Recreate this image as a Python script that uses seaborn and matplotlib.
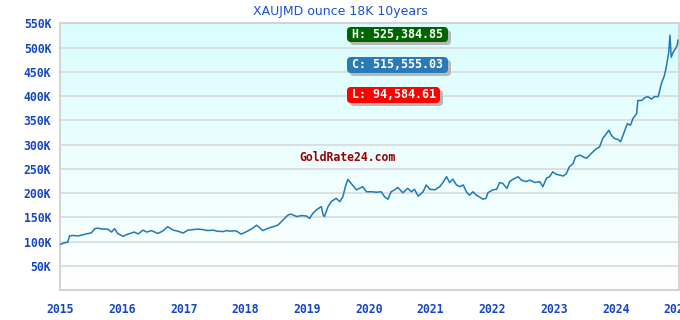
import matplotlib
matplotlib.use('Agg')
import matplotlib.pyplot as plt
import seaborn as sns
import numpy as np
from matplotlib.colors import LinearSegmentedColormap
from matplotlib.patches import FancyBboxPatch
from matplotlib.transforms import IdentityTransform

# price of one 18K ounce in JMD, thousands
years = [
    2015.00, 2015.07, 2015.12, 2015.15, 2015.20, 2015.29, 2015.37, 2015.45, 2015.50, 2015.56,
    2015.61, 2015.69, 2015.77, 2015.83, 2015.88, 2015.93, 2016.02, 2016.07, 2016.15, 2016.20,
    2016.26, 2016.34, 2016.40, 2016.48, 2016.58, 2016.66, 2016.74, 2016.83, 2016.91, 2016.99,
    2017.07, 2017.15, 2017.23, 2017.31, 2017.39, 2017.47, 2017.55, 2017.64, 2017.69, 2017.74,
    2017.85, 2017.93, 2018.02, 2018.10, 2018.18, 2018.23, 2018.28, 2018.37, 2018.45, 2018.53,
    2018.61, 2018.69, 2018.74, 2018.83, 2018.91, 2018.99, 2019.04, 2019.09, 2019.15, 2019.23,
    2019.26, 2019.28, 2019.34, 2019.39, 2019.47, 2019.53, 2019.58, 2019.62, 2019.66, 2019.72,
    2019.80, 2019.85, 2019.90, 2019.96, 2020.04, 2020.12, 2020.20, 2020.26, 2020.31, 2020.36,
    2020.42, 2020.47, 2020.55, 2020.63, 2020.69, 2020.74, 2020.80, 2020.88, 2020.93, 2020.99,
    2021.07, 2021.15, 2021.20, 2021.26, 2021.31, 2021.36, 2021.42, 2021.47, 2021.53, 2021.58,
    2021.63, 2021.69, 2021.74, 2021.80, 2021.85, 2021.90, 2021.93, 2022.01, 2022.07, 2022.12,
    2022.17, 2022.24, 2022.28, 2022.34, 2022.42, 2022.47, 2022.55, 2022.61, 2022.69, 2022.77,
    2022.82, 2022.88, 2022.93, 2022.98, 2023.04, 2023.09, 2023.15, 2023.20, 2023.25, 2023.31,
    2023.35, 2023.42, 2023.47, 2023.53, 2023.58, 2023.63, 2023.69, 2023.74, 2023.79, 2023.85,
    2023.89, 2023.93, 2023.98, 2024.04, 2024.08, 2024.13, 2024.19, 2024.24, 2024.28, 2024.34,
    2024.36, 2024.42, 2024.47, 2024.52, 2024.58, 2024.63, 2024.69, 2024.74, 2024.79, 2024.82,
    2024.86, 2024.88, 2024.90, 2024.93, 2024.97, 2025.00, 2025.01,
]
price_k = [
    94.6, 98, 99, 112, 113, 112, 114.5, 117, 118, 127,
    128, 126, 126, 120, 127, 117, 111, 114.5, 118, 120,
    116, 124, 120, 123, 117, 122, 131, 124, 121.6, 118,
    124, 125, 126, 125, 123, 124, 121.6, 121, 123, 122,
    122.5, 115.7, 121, 126.5, 134, 129, 123, 128, 131, 134.5,
    145, 155, 157, 152, 154, 153, 148, 158, 165.6, 172.5,
    155, 152, 172.5, 182.6, 189.5, 182.6, 193, 213.5, 228.5, 219,
    207, 210, 213.5, 203, 203, 202, 203, 192, 187.5, 203,
    207, 212, 201, 210, 203, 208, 194, 203, 217, 208,
    207, 213.5, 222, 234, 222, 229, 217, 213.5, 217, 203,
    196, 203, 196, 191.6, 187.6, 189.6, 201, 207, 208, 222,
    220, 210, 224, 229, 234, 227, 224, 227, 222, 224,
    213.5, 231, 234, 244, 239, 237.5, 235.5, 240, 254.5, 261,
    275, 278.5, 275, 272, 278.5, 285, 292, 295.5, 312.6, 323,
    329.7, 319.5, 312.6, 310.6, 306, 323, 343.4, 340, 353.8, 364,
    391, 391, 396.5, 399, 394, 399, 399, 425.4, 442.5, 459.6,
    490, 525.4, 480, 490, 497.6, 506, 515.6,
]
year_ticks = list(range(2015, 2026))
price_ticks = list(range(50, 551, 50))

title = 'XAUJMD ounce 18K 10years'
badges = [('H: 525,384.85', '#006400'), ('C: 515,555.03', '#2a7ab8'), ('L: 94,584.61', '#ff0000')]

sns.set_style('white')
fig = plt.figure(figsize=(6.8, 3.2), dpi=100)
ax = fig.add_axes([60.3 / 680, 29.7 / 320, 618.3 / 680, 267 / 320])

# cyan-to-white vertical gradient behind the plot
grad = np.linspace(1, 0, 256).reshape(-1, 1)
cmap_bg = LinearSegmentedColormap.from_list('bg', ['#ffffff', '#d9fdfd'])
ax.imshow(grad, extent=[0, 1, 0, 1], transform=ax.transAxes, aspect='auto',
          cmap=cmap_bg, vmin=0, vmax=1, zorder=0)

sns.lineplot(x=years, y=price_k, ax=ax, color='#2178b5', linewidth=1.1, zorder=3)

ax.set_xlim(2015, 2025.02)
ax.set_ylim(0, 550)
ax.set_xticks(year_ticks)
ax.set_xticklabels([str(y) for y in year_ticks])
ax.set_yticks(price_ticks)
ax.set_yticklabels([f'{v}K' for v in price_ticks])
ax.set_xlabel('')
ax.set_ylabel('')
ax.grid(axis='y', color='#d9d9d9', linewidth=1.2, zorder=1)
ax.set_axisbelow(True)
ax.tick_params(length=0, labelsize=8.3, labelcolor='#1546c8')
ax.tick_params(axis='y', pad=6.5)
ax.tick_params(axis='x', pad=9.5)
for lbl in ax.get_xticklabels() + ax.get_yticklabels():
    lbl.set_family('DejaVu Sans Mono')
    lbl.set_weight('bold')
    lbl.set_clip_on(False)
for s in ax.spines.values():
    s.set_color('#d4d4d4')
    s.set_linewidth(1.5)

fig.text(0.5, 1 - 11 / 320, title, ha='center', va='center', fontsize=9,
         color='#1f50d0', family='DejaVu Sans')

# rounded H / C / L badges with drop shadow (pixel coordinates, y from top)
boxes = [(347, 27, 101, 15), (347, 57, 101, 16), (347, 87, 93, 16)]
for (txt, col), (bx, by, bw, bh) in zip(badges, boxes):
    y0 = 320 - by - bh
    shadow = FancyBboxPatch((bx + 3, y0 - 3), bw, bh, boxstyle='round,pad=0,rounding_size=4',
                            transform=IdentityTransform(), facecolor='#b8b8b8',
                            edgecolor='none', zorder=5)
    box = FancyBboxPatch((bx, y0), bw, bh, boxstyle='round,pad=0,rounding_size=4',
                         transform=IdentityTransform(), facecolor=col,
                         edgecolor='none', zorder=6)
    fig.patches.extend([shadow, box])
    fig.text((bx + bw / 2) / 680, (y0 + bh / 2) / 320, txt, ha='center', va='center',
             fontsize=8.4, color='white', weight='bold', family='DejaVu Sans Mono', zorder=7)

fig.text(348 / 680, 1 - 157.5 / 320, 'GoldRate24.com', ha='center', va='center',
         fontsize=8.3, color='#990000', weight='bold', family='DejaVu Sans Mono', zorder=7)

fig.savefig('out.png', dpi=100)
